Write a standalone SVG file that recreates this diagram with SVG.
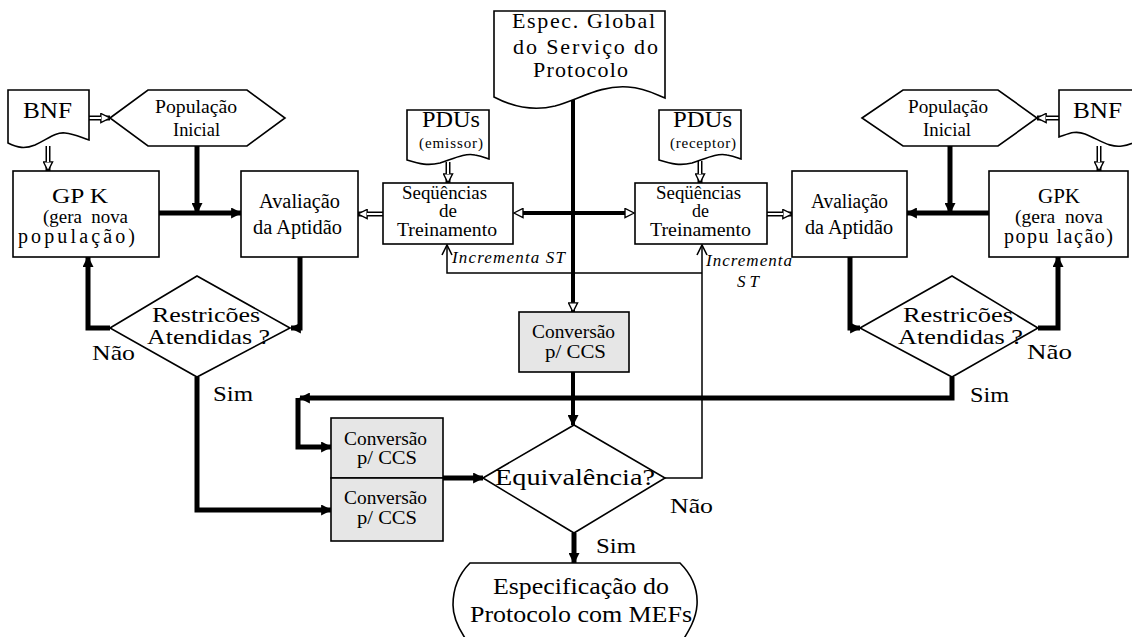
<svg xmlns="http://www.w3.org/2000/svg" width="1132" height="637" viewBox="0 0 1132 637">
  <style>
    text { font-family: "Liberation Serif", "Times New Roman", serif; fill: #000; text-anchor: middle; }
    .t15 { font-size: 15px; }
    .t18 { font-size: 18px; }
    .t185 { font-size: 18.5px; }
    .t19 { font-size: 19px; }
    .t20 { font-size: 20px; }
    .t21 { font-size: 21px; }
    .t22 { font-size: 22px; }
    .t23 { font-size: 23px; }
    .t24 { font-size: 24px; }
    .it { font-size: 17px; font-style: italic; text-anchor: start; }
    .shape { fill: #fff; stroke: #000; stroke-width: 1.6; }
    .gray { fill: #e6e6e6; stroke: #000; stroke-width: 1.6; }
    .thick { fill: none; stroke: #000; stroke-width: 5; }
    .mid { fill: none; stroke: #000; stroke-width: 4; }
    .thin { fill: none; stroke: #000; stroke-width: 1.5; }
    .dblo { fill: none; stroke: #000; stroke-width: 5; }
    .dbli { fill: none; stroke: #fff; stroke-width: 2; }
  </style>
  <defs>
    <marker id="ah" viewBox="0 0 10 10" refX="9" refY="5" markerWidth="11" markerHeight="11" orient="auto" markerUnits="userSpaceOnUse">
      <path d="M0,0 L10,5 L0,10 z" fill="#000"/>
    </marker>
    <marker id="hah" viewBox="-1 -1 12 12" refX="10" refY="5" markerWidth="11" markerHeight="11" orient="auto" markerUnits="userSpaceOnUse">
      <path d="M0,0 L10,5 L0,10 z" fill="#fff" stroke="#000" stroke-width="1.5"/>
    </marker>
    <marker id="hahs" viewBox="-1 -1 12 12" refX="0" refY="5" markerWidth="11" markerHeight="11" orient="auto-start-reverse" markerUnits="userSpaceOnUse">
      <path d="M0,0 L10,5 L0,10 z" fill="#fff" stroke="#000" stroke-width="1.5"/>
    </marker>
    <marker id="chev" viewBox="-1 -1 12 12" refX="10" refY="5" markerWidth="12" markerHeight="12" orient="auto" markerUnits="userSpaceOnUse">
      <path d="M0,0 L10,5 L0,10" fill="none" stroke="#000" stroke-width="1.6"/>
    </marker>
  </defs>

  <!-- connectors -->
  <g id="connectors">
    <!-- hollow double-line arrows -->
    <g>
      <path class="dblo" d="M48,146 V171" marker-end="url(#hah)"/>
      <path class="dbli" d="M48,146 V162"/>
      <path class="dblo" d="M89,118 H110" marker-end="url(#hah)"/>
      <path class="dbli" d="M89,118 H101"/>
      <path class="dblo" d="M1059,118 H1037" marker-end="url(#hah)"/>
      <path class="dbli" d="M1059,118 H1046"/>
      <path class="dblo" d="M1099,146 V171" marker-end="url(#hah)"/>
      <path class="dbli" d="M1099,146 V162"/>
      <path class="dblo" d="M448,162 V183" marker-end="url(#hah)"/>
      <path class="dbli" d="M448,162 V174"/>
      <path class="dblo" d="M700,161 V183" marker-end="url(#hah)"/>
      <path class="dbli" d="M700,161 V174"/>
      <path class="dblo" d="M383,214 H358" marker-end="url(#hah)"/>
      <path class="dbli" d="M383,214 H367"/>
      <path class="dblo" d="M767,214 H792" marker-end="url(#hah)"/>
      <path class="dbli" d="M767,214 H783"/>
    </g>
    <!-- thick flow lines -->
    <path class="thick" d="M197,146 V213" marker-end="url(#ah)"/>
    <path class="thick" d="M159,213 H241" marker-end="url(#ah)"/>
    <path class="thick" d="M950,146 V213" marker-end="url(#ah)"/>
    <path class="thick" d="M989,213 H907" marker-end="url(#ah)"/>
    <path class="thick" d="M110,328 H88 V257" marker-end="url(#ah)"/>
    <path class="thick" d="M300,257 V328 H291" marker-end="url(#ah)"/>
    <path class="thick" d="M850,257 V328 H860" marker-end="url(#ah)"/>
    <path class="thick" d="M1038,328 H1058 V257" marker-end="url(#ah)"/>
    <path class="thick" d="M197,377 V510 H331" marker-end="url(#ah)"/>
    <path class="thick" d="M952,377 V398 H300" marker-end="url(#ah)"/>
    <path class="thick" d="M298,398 V447 H331" marker-end="url(#ah)"/>
    <path class="thick" d="M443,478 H483" marker-end="url(#ah)"/>
    <path class="mid" d="M573,100 V312" marker-end="url(#hah)"/>
    <path class="mid" d="M573,372 V425" marker-end="url(#ah)"/>
    <path class="thick" d="M574,533 V563" marker-end="url(#ah)"/>
    <path class="mid" d="M523,213 H625" marker-start="url(#hahs)" marker-end="url(#hahs)"/>
    <!-- feedback: training sequence increment -->
    <path class="thin" d="M665,478 H702 V245" marker-end="url(#chev)"/>
    <path class="thin" d="M702,273 H447 V245" marker-end="url(#chev)"/>
  </g>

  <!-- global service specification -->
  <g id="espec">
    <path class="shape" d="M494,11 H665 V98 C655,94 645,88 628,87 C600,85 580,99 555,106 C535,111 515,108 494,97 Z"/>
    <text class="t22" x="583.5" y="28" textLength="143" lengthAdjust="spacing">Espec. Global</text>
    <text class="t22" x="585.5" y="54" textLength="145" lengthAdjust="spacing">do Serviço do</text>
    <text class="t22" x="580.5" y="77" textLength="95" lengthAdjust="spacing">Protocolo</text>
  </g>

  <!-- left branch -->
  <g id="bnf-left">
    <path class="shape" d="M8,90 H89 V140 C82,138 75,134 65,133 C55,132 48,139 35,145 C25,149 18,148 8,143 Z"/>
    <text class="t24" x="47.5" y="118" textLength="49" lengthAdjust="spacingAndGlyphs">BNF</text>
  </g>
  <g id="pop-left">
    <polygon class="shape" points="110,118 148,90 247,90 285,118 247,146 148,146"/>
    <text class="t19" x="196" y="113" textLength="82" lengthAdjust="spacingAndGlyphs">População</text>
    <text class="t19" x="196.5" y="136" textLength="47" lengthAdjust="spacingAndGlyphs">Inicial</text>
  </g>
  <g id="gpk-left">
    <rect class="shape" x="13" y="171" width="146" height="86"/>
    <text class="t21" x="80" y="203" textLength="56" lengthAdjust="spacingAndGlyphs">GP K</text>
    <text class="t19" x="85.5" y="223" textLength="85" lengthAdjust="spacingAndGlyphs" xml:space="preserve">(gera  nova</text>
    <text class="t20" x="76.5" y="243" textLength="117" lengthAdjust="spacing">população)</text>
  </g>
  <g id="aval-left">
    <rect class="shape" x="241" y="171" width="117" height="86"/>
    <text class="t20" x="299.5" y="208" textLength="81" lengthAdjust="spacingAndGlyphs">Avaliação</text>
    <text class="t20" x="297.5" y="234" textLength="89" lengthAdjust="spacingAndGlyphs">da Aptidão</text>
  </g>
  <g id="restr-left">
    <polygon class="shape" points="110,328 197,276 290,328 197,377"/>
    <text class="t21" x="206" y="322" textLength="108" lengthAdjust="spacingAndGlyphs">Restricões</text>
    <text class="t21" x="208.5" y="344" textLength="123" lengthAdjust="spacingAndGlyphs">Atendidas ?</text>
  </g>
  <g id="pdu-left">
    <path class="shape" d="M407,110 H489 V159 C486,158 482,156 475,155 C465,153 455,158 440,163 C428,166 420,164 407,160 Z"/>
    <text class="t23" x="451" y="127" textLength="58" lengthAdjust="spacingAndGlyphs">PDUs</text>
    <text class="t15" x="451" y="148" textLength="64" lengthAdjust="spacing">(emissor)</text>
  </g>
  <g id="seq-left">
    <rect class="shape" x="383" y="183" width="130" height="61"/>
    <text class="t18" x="444.5" y="199" textLength="85" lengthAdjust="spacingAndGlyphs">Seqüências</text>
    <text class="t18" x="448" y="217" textLength="18" lengthAdjust="spacingAndGlyphs">de</text>
    <text class="t18" x="447" y="236" textLength="100" lengthAdjust="spacingAndGlyphs">Treinamento</text>
  </g>

  <!-- right branch -->
  <g id="pdu-right">
    <path class="shape" d="M659,110 H741 V159 C738,158 734,156 727,155 C717,153 707,158 692,163 C680,166 672,164 659,160 Z"/>
    <text class="t23" x="702.5" y="127" textLength="59" lengthAdjust="spacingAndGlyphs">PDUs</text>
    <text class="t15" x="703" y="148" textLength="66" lengthAdjust="spacing">(receptor)</text>
  </g>
  <g id="seq-right">
    <rect class="shape" x="635" y="183" width="132" height="61"/>
    <text class="t18" x="698.5" y="199" textLength="85" lengthAdjust="spacingAndGlyphs">Seqüências</text>
    <text class="t18" x="700.5" y="217" textLength="17" lengthAdjust="spacingAndGlyphs">de</text>
    <text class="t18" x="700.5" y="236" textLength="101" lengthAdjust="spacingAndGlyphs">Treinamento</text>
  </g>
  <g id="aval-right">
    <rect class="shape" x="792" y="171" width="115" height="86"/>
    <text class="t20" x="849.5" y="208" textLength="77" lengthAdjust="spacingAndGlyphs">Avaliação</text>
    <text class="t20" x="849" y="234" textLength="88" lengthAdjust="spacingAndGlyphs">da Aptidão</text>
  </g>
  <g id="pop-right">
    <polygon class="shape" points="862,118 903,90 998,90 1037,118 998,146 903,146"/>
    <text class="t19" x="948" y="113" textLength="80" lengthAdjust="spacingAndGlyphs">População</text>
    <text class="t19" x="947" y="136" textLength="48" lengthAdjust="spacingAndGlyphs">Inicial</text>
  </g>
  <g id="bnf-right">
    <path class="shape" d="M1059,90 H1140 V140 C1135,142 1130,145 1122,146 C1110,148 1100,140 1085,134 C1075,130 1068,134 1059,137 Z"/>
    <text class="t24" x="1097.5" y="118" textLength="49" lengthAdjust="spacingAndGlyphs">BNF</text>
  </g>
  <g id="gpk-right">
    <rect class="shape" x="989" y="171" width="139" height="86"/>
    <text class="t21" x="1059" y="203" textLength="42" lengthAdjust="spacingAndGlyphs">GPK</text>
    <text class="t19" x="1059" y="223" textLength="88" lengthAdjust="spacingAndGlyphs" xml:space="preserve">(gera  nova</text>
    <text class="t20" x="1058.5" y="243" textLength="109" lengthAdjust="spacing">popu lação)</text>
  </g>
  <g id="restr-right">
    <polygon class="shape" points="860,328 952,276 1038,328 952,377"/>
    <text class="t21" x="958" y="322" textLength="110" lengthAdjust="spacingAndGlyphs">Restricões</text>
    <text class="t21" x="960.5" y="344" textLength="125" lengthAdjust="spacingAndGlyphs">Atendidas ?</text>
  </g>

  <!-- conversion and equivalence check -->
  <g id="conv-mid">
    <rect class="gray" x="519" y="312" width="110" height="60"/>
    <text class="t185" x="573.5" y="338" textLength="83" lengthAdjust="spacingAndGlyphs">Conversão</text>
    <text class="t185" x="575.5" y="358" textLength="61" lengthAdjust="spacingAndGlyphs">p/ CCS</text>
  </g>
  <g id="conv-top">
    <rect class="gray" x="331" y="418" width="112" height="60"/>
    <text class="t185" x="385.5" y="445" textLength="83" lengthAdjust="spacingAndGlyphs">Conversão</text>
    <text class="t185" x="387" y="464" textLength="60" lengthAdjust="spacingAndGlyphs">p/ CCS</text>
  </g>
  <g id="conv-bottom">
    <rect class="gray" x="331" y="478" width="112" height="63"/>
    <text class="t185" x="385.5" y="504" textLength="83" lengthAdjust="spacingAndGlyphs">Conversão</text>
    <text class="t185" x="387" y="524" textLength="60" lengthAdjust="spacingAndGlyphs">p/ CCS</text>
  </g>
  <g id="equiv">
    <polygon class="shape" points="483,478 574,425 665,478 574,533"/>
    <text class="t23" x="575" y="485" textLength="160" lengthAdjust="spacingAndGlyphs">Equivalência?</text>
  </g>
  <g id="result">
    <path class="shape" d="M470,563 H680 C692,575 698,590 697,605 C696,620 688,632 680,645 H470 C460,632 453,618 453,605 C453,590 458,575 470,563 Z"/>
    <text class="t23" x="581" y="594" textLength="176" lengthAdjust="spacingAndGlyphs">Especificação do</text>
    <text class="t23" x="581" y="622" textLength="222" lengthAdjust="spacingAndGlyphs">Protocolo com MEFs</text>
  </g>

  <!-- branch labels -->
  <g id="labels">
    <text class="t21" x="113.5" y="360" textLength="43" lengthAdjust="spacingAndGlyphs">Não</text>
    <text class="t21" x="1049.5" y="359" textLength="45" lengthAdjust="spacingAndGlyphs">Não</text>
    <text class="t21" x="691.5" y="513" textLength="43" lengthAdjust="spacingAndGlyphs">Não</text>
    <text class="t22" x="233" y="401" textLength="40" lengthAdjust="spacingAndGlyphs">Sim</text>
    <text class="t22" x="989.5" y="402" textLength="39" lengthAdjust="spacingAndGlyphs">Sim</text>
    <text class="t22" x="616" y="553" textLength="40" lengthAdjust="spacingAndGlyphs">Sim</text>
    <text class="it" x="452" y="263" textLength="113" lengthAdjust="spacing">Incrementa ST</text>
    <text class="it" x="706" y="266" textLength="86" lengthAdjust="spacing">Incrementa</text>
    <text class="it" x="737" y="287" textLength="22" lengthAdjust="spacing">ST</text>
  </g>
</svg>
